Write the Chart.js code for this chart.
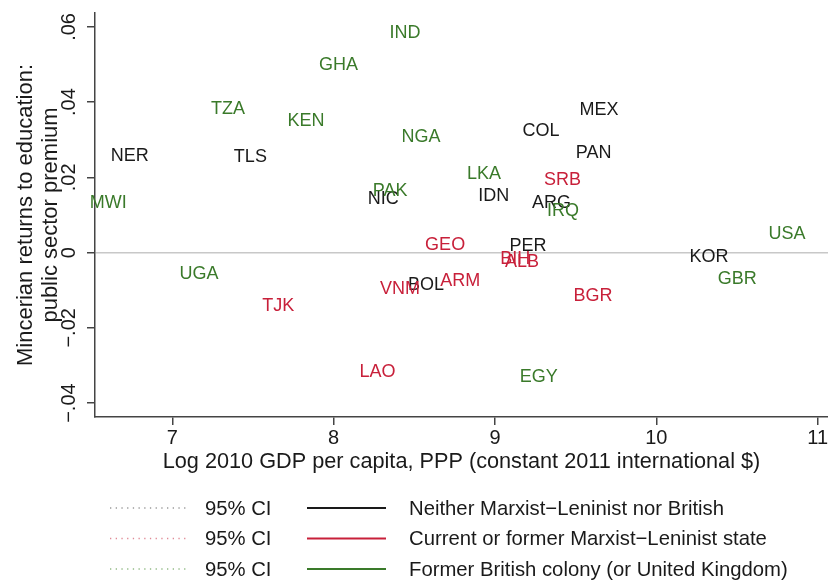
<!DOCTYPE html>
<html>
<head>
<meta charset="utf-8">
<script src="https://cdn.jsdelivr.net/npm/chart.js@4"></script>
<style>
  html, body { margin: 0; padding: 0; background: #fff; }
  #wrap { width: 828px; height: 581px; }
</style>
</head>
<body>
<div id="wrap"><canvas id="chart" width="828" height="581"></canvas></div>
<script>
// Values
const neitherCodes = ['NER', 'TLS', 'NIC', 'IDN', 'COL', 'MEX', 'PAN', 'ARG', 'PER', 'BOL', 'KOR'];
const neitherX = [6.736, 7.484, 8.308, 8.993, 9.286, 9.645, 9.611, 9.350, 9.205, 8.573, 10.326];
const neitherY = [0.0257, 0.0254, 0.0143, 0.0150, 0.0322, 0.0378, 0.0264, 0.0132, 0.0017, -0.0087, -0.0013];

const marxistCodes = ['SRB', 'GEO', 'BIH', 'ALB', 'ARM', 'BGR', 'VNM', 'TJK', 'LAO'];
const marxistX = [9.419, 8.691, 9.125, 9.168, 8.784, 9.608, 8.412, 7.657, 8.272];
const marxistY = [0.0194, 0.0020, -0.0016, -0.0024, -0.0076, -0.0116, -0.0096, -0.0143, -0.0317];

const britishCodes = ['IND', 'GHA', 'TZA', 'KEN', 'NGA', 'PAK', 'MWI', 'LKA', 'IRQ', 'USA', 'GBR', 'UGA', 'EGY'];
const britishX = [8.443, 8.030, 7.345, 7.828, 8.542, 8.350, 6.603, 8.932, 9.422, 10.810, 10.501, 7.166, 9.272];
const britishY = [0.0583, 0.0500, 0.0381, 0.0351, 0.0307, 0.0164, 0.0132, 0.0208, 0.0110, 0.0049, -0.0071, -0.0058, -0.0330];

const xTicks = [7, 8, 9, 10, 11];
const xTickLabels = ['7', '8', '9', '10', '11'];
const yTicks = [-0.04, -0.02, 0, 0.02, 0.04, 0.06];
const yTickLabels = ['\u2212.04', '\u2212.02', '0', '.02', '.04', '.06'];

const groupLabels = ['Neither Marxist\u2212Leninist nor British', 'Current or former Marxist\u2212Leninist state', 'Former British colony (or United Kingdom)'];
const ciLabel = '95% CI';

const COLORS = {
    neither: '#1a1a1a',
    marxist: '#c8203a',
    british: '#3a7a2a',
    axis: '#444444',
    zero: '#c8c8c8',
};
const CI_COLORS = ['#9a9a9a', '#e08a96', '#92bb86'];
const FONT = "'Liberation Sans', Arial, Helvetica, sans-serif";

function points(xs, ys) {
    return xs.map((x, i) => ({ x, y: ys[i] }));
}

// draws the country codes centred on each point, plus tick labels and legend
const textLabels = {
    id: 'textLabels',
    afterDatasetsDraw(chart) {
        const ctx = chart.ctx;
        ctx.save();
        ctx.font = '18px ' + FONT;
        ctx.textAlign = 'center';
        ctx.textBaseline = 'middle';
        chart.data.datasets.forEach((ds, di) => {
            const meta = chart.getDatasetMeta(di);
            ctx.fillStyle = ds.textColor;
            meta.data.forEach((pt, i) => {
                ctx.fillText(ds.codes[i], pt.x, pt.y);
            });
        });
        ctx.restore();
    },
    afterDraw(chart) {
        const ctx = chart.ctx;
        const { x, y } = chart.scales;
        ctx.save();
        ctx.fillStyle = '#1a1a1a';
        ctx.font = '20px ' + FONT;
        ctx.textAlign = 'center';
        ctx.textBaseline = 'middle';
        xTicks.forEach((v, i) => ctx.fillText(xTickLabels[i], x.getPixelForValue(v), 438));
        yTicks.forEach((v, i) => {
            ctx.save();
            ctx.translate(69, y.getPixelForValue(v));
            ctx.rotate(-Math.PI / 2);
            ctx.fillText(yTickLabels[i], 0, 0);
            ctx.restore();
        });

        // legend block under the plot
        const rows = [508, 538.5, 569];
        const lineColors = [COLORS.neither, COLORS.marxist, COLORS.british];
        ctx.textAlign = 'left';
        ctx.font = '20.3px ' + FONT;
        rows.forEach((ry, i) => {
            ctx.strokeStyle = CI_COLORS[i];
            ctx.lineWidth = 1.3;
            ctx.setLineDash([1.3, 4.4]);
            ctx.beginPath();
            ctx.moveTo(110, ry);
            ctx.lineTo(188, ry);
            ctx.stroke();

            ctx.setLineDash([]);
            ctx.strokeStyle = lineColors[i];
            ctx.lineWidth = 2;
            ctx.beginPath();
            ctx.moveTo(307, ry);
            ctx.lineTo(386, ry);
            ctx.stroke();

            ctx.fillStyle = '#1a1a1a';
            ctx.fillText(ciLabel, 205, ry + 1);
            ctx.fillText(groupLabels[i], 409, ry + 1);
        });
        ctx.restore();
    },
};

new Chart(document.getElementById('chart'), {
    type: 'scatter',
    data: {
        datasets: [
            { label: groupLabels[0], data: points(neitherX, neitherY), codes: neitherCodes, textColor: COLORS.neither, pointRadius: 0 },
            { label: groupLabels[1], data: points(marxistX, marxistY), codes: marxistCodes, textColor: COLORS.marxist, pointRadius: 0 },
            { label: groupLabels[2], data: points(britishX, britishY), codes: britishCodes, textColor: COLORS.british, pointRadius: 0 },
        ],
    },
    options: {
        responsive: false,
        devicePixelRatio: 1,
        animation: false,
        layout: { padding: { top: 13, right: 0, bottom: 106, left: 0 } },
        plugins: {
            legend: { display: false },
            tooltip: { enabled: false },
        },
        scales: {
            x: {
                type: 'linear',
                min: 6.521,
                max: 11.064,
                afterBuildTicks: s => { s.ticks = xTicks.map(v => ({ value: v })); },
                afterFit: s => { s.height = 58; },
                ticks: { display: false },
                grid: { drawOnChartArea: false, color: COLORS.axis, tickColor: COLORS.axis, tickLength: 8, lineWidth: 1.5 },
                border: { color: COLORS.axis, width: 1.5 },
                title: {
                    display: true,
                    text: 'Log 2010 GDP per capita, PPP (constant 2011 international $)',
                    color: '#1a1a1a',
                    font: { family: FONT, size: 21.7, lineHeight: 1.2 },
                    padding: { top: 0, bottom: 0 },
                },
            },
            y: {
                type: 'linear',
                min: -0.0437,
                max: 0.0637,
                afterBuildTicks: s => { s.ticks = yTicks.map(v => ({ value: v })); },
                afterFit: s => { s.width = 95; },
                ticks: { display: false },
                grid: {
                    color: c => (c.tick && c.tick.value === 0 ? COLORS.zero : 'rgba(0,0,0,0)'),
                    tickColor: COLORS.axis,
                    tickLength: 8,
                    lineWidth: 1.5,
                },
                border: { color: COLORS.axis, width: 1.5 },
                title: {
                    display: true,
                    text: ['Mincerian returns to education:', 'public sector premium'],
                    color: '#1a1a1a',
                    font: { family: FONT, size: 22, lineHeight: 1.15 },
                    padding: { top: 13, bottom: 0 },
                },
            },
        },
    },
    plugins: [textLabels],
});
</script>
</body>
</html>
